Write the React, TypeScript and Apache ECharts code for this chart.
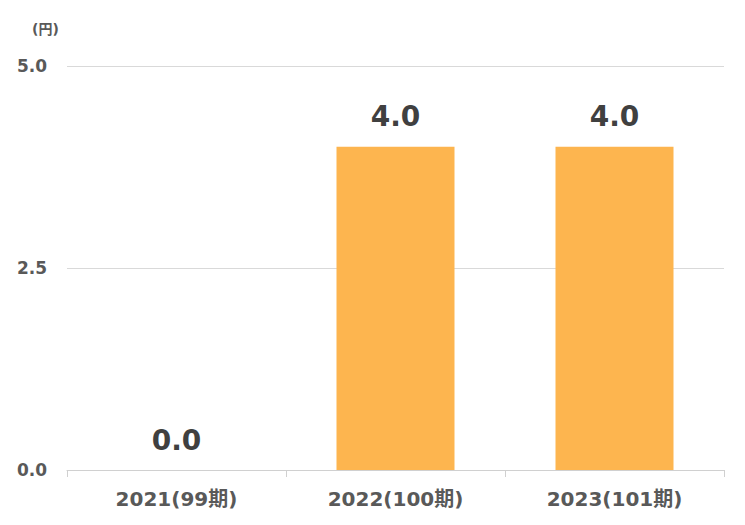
import React, { useEffect, useRef } from "react";
import * as echarts from "echarts";

const categories = ["2021(99期)", "2022(100期)", "2023(101期)"];
const values = [0.0, 4.0, 4.0];
const yTicks = [0, 2.5, 5];

export default function App() {
  const ref = useRef<HTMLDivElement>(null);
  useEffect(() => {
    if (!ref.current) return;
    const chart = echarts.init(ref.current, undefined, { renderer: "svg" });
    const font = '"DejaVu Sans", "Noto Sans CJK JP", sans-serif';
    chart.setOption({
      animation: false,
      backgroundColor: "#ffffff",
      grid: { left: 67, right: 21, top: 66, bottom: 55, containLabel: false },
      graphic: [
        {
          type: "text",
          left: 32,
          top: 22,
          style: { text: "(円)", font: `bold 14px ${font}`, fill: "#595959" },
        },
      ],
      xAxis: {
        type: "category",
        data: categories,
        axisLine: { show: true, lineStyle: { color: "#d0d0d0", width: 1 } },
        axisTick: { show: true, length: 7, lineStyle: { color: "#d0d0d0" } },
        axisLabel: {
          margin: 19,
          fontFamily: font,
          fontWeight: "bold",
          fontSize: 20,
          color: "#595959",
        },
      },
      yAxis: {
        type: "value",
        min: yTicks[0],
        max: yTicks[yTicks.length - 1],
        interval: yTicks[1] - yTicks[0],
        axisLine: { show: false },
        axisTick: { show: false },
        splitLine: { lineStyle: { color: "#d9d9d9", width: 1 } },
        axisLabel: {
          margin: 20,
          fontFamily: font,
          fontWeight: "bold",
          fontSize: 17,
          color: "#595959",
          formatter: (v: number) => v.toFixed(1),
        },
      },
      series: [
        {
          type: "bar",
          data: values,
          barWidth: 118,
          itemStyle: { color: "#fdb54f" },
          label: {
            show: true,
            position: "top",
            distance: 16,
            fontFamily: font,
            fontWeight: "bold",
            fontSize: 28,
            color: "#404040",
            formatter: (p: any) => Number(p.value).toFixed(1),
          },
        },
      ],
    });
    return () => chart.dispose();
  }, []);
  return (
    <div
      ref={ref}
      style={{ position: "fixed", left: 0, top: 0, width: 745, height: 525 }}
    />
  );
}
